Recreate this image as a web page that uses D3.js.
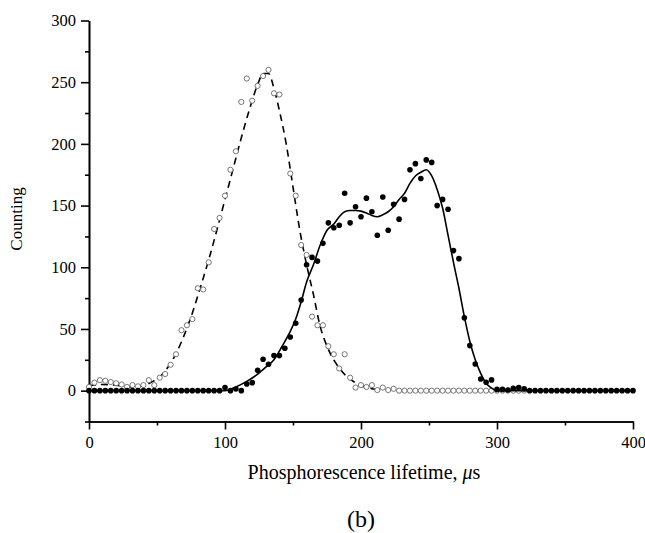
<!DOCTYPE html>
<html>
<head>
<meta charset="utf-8">
<script src="https://cdn.jsdelivr.net/npm/d3@7"></script>
<style>
  body { margin: 0; background: #fff; }
  svg { font-family: 'Liberation Serif', 'Times New Roman', serif; }
</style>
</head>
<body>
<svg width="645" height="533"></svg>
<script>
var svg = d3.select('svg')

// open circles (first band)
var openT = [0, 4, 8, 12, 16, 20, 24, 28, 32, 36, 40, 44, 48, 52, 56, 60, 64, 68, 72, 76,
  80, 84, 88, 92, 96, 100, 104, 108, 112, 116, 120, 124, 128, 132, 136, 140, 148, 152, 156, 160,
  164, 168, 172, 176, 180, 184, 188, 192, 196, 200, 204, 208, 212, 216, 220, 224, 228, 232, 236, 240,
  244, 248, 252, 256, 260, 264, 268, 272, 276, 280, 284, 288, 292, 296, 300, 304, 308, 312, 316, 320]
var openV = [3, 6.5, 8.5, 8, 7, 6, 5, 3, 4.5, 3.5, 4.5, 8.5, 4.5, 10.5, 13.5, 21, 29.5, 49, 53, 58,
  83, 82, 104, 131, 140, 158, 179, 194, 234, 253, 235, 247, 255, 260, 241, 240, 176, 158, 118, 110,
  60, 53, 53, 36, 29.5, 18, 29.5, 10.5, 2.5, 4.5, 3, 4.5, 0.5, 2.5, 0.5, 1.5, 0, 0, 0, 0,
  0, 0, 0, 0, 0, 0, 0, 0, 0, 0, 0, 0, 0, 0, 0, 0, 0, 0, 0, 0]

// dashed fit through the open circles
var dashT = [0, 10, 20, 30, 40, 46, 52, 58, 64, 70, 76, 82, 88, 94, 100, 106, 112, 118, 124, 128,
  132, 136, 140, 145, 150, 155, 160, 165, 170, 175, 180, 185, 190, 195, 200, 206, 212]
var dashV = [4, 5, 4.5, 3, 4, 7, 11, 19, 30, 45, 63, 84, 106, 130, 155, 180, 205, 228, 248, 257,
  257, 245, 227, 200, 165, 130, 102, 78, 52, 36, 25, 17, 11, 7, 4, 2, 1]

// filled circles (second band)
var fillT = [0, 4, 8, 12, 16, 20, 24, 28, 32, 36, 40, 44, 48, 52, 56, 60, 64, 68, 72, 76,
  80, 84, 88, 92, 96, 100, 104, 108, 112, 116, 120, 124, 128, 132, 136, 140, 144, 148, 152, 156,
  160, 164, 168, 172, 176, 180, 184, 188, 192, 196, 200, 204, 208, 212, 216, 220, 224, 228, 232, 236,
  240, 244, 248, 252, 256, 260, 264, 268, 272, 276, 280, 284, 288, 292, 296, 300, 304, 308, 312, 316,
  320, 324, 328, 332, 336, 340, 344, 348, 352, 356, 360, 364, 368, 372, 376, 380, 384, 388, 392, 396, 400]
var fillV = [0, 0, 0, 0, 0, 0, 0, 0, 0, 0, 0, 0, 0, 0, 0, 0, 0, 0, 0, 0,
  0, 0, 0, 0, 0, 2.5, 0, 1.4, 0, 5.4, 6.5, 16.5, 25.4, 21.4, 28.4, 28.4, 34.4, 43.5, 54.6, 73.5,
  102, 108, 105, 119.4, 136, 132, 134, 160, 136, 149, 141, 156, 145, 126, 157, 130, 151, 139, 155, 179,
  184, 172, 187, 185, 150, 155, 147, 113.5, 107, 59, 36.5, 21.6, 9.5, 6.8, 8.7, 1, 1, 0.5, 2, 2.5,
  1.5, 0, 0, 0, 0, 0, 0, 0, 0, 0, 0, 0, 0, 0, 0, 0, 0, 0, 0, 0, 0]

// solid fit through the filled circles
var solidT = [0, 100, 108, 116, 123, 130, 136, 142, 148, 152, 156, 160, 165, 170, 175, 180, 184, 188, 192, 196,
  200, 204, 208, 212, 216, 220, 224, 228, 232, 236, 240, 244, 248, 252, 256, 260, 264, 268, 272, 276,
  280, 284, 288, 292, 296, 300, 400]
var solidV = [0, 0, 3, 7.5, 12.5, 19, 25, 36, 48, 58, 72, 88, 102, 118, 130, 135, 141, 145, 146, 146,
  145.5, 144, 142, 141, 142.5, 145, 149, 155, 160, 168, 174, 177, 179, 174, 163, 148, 126, 104, 83, 60,
  40, 25, 14, 6, 2, 0, 0]

var xMajor = [0, 100, 200, 300, 400]
var xMinor = [50, 150, 250, 350]
var yMajor = [0, 50, 100, 150, 200, 250, 300]
var yMinor = [-25, 25, 75, 125, 175, 225, 275]

var x = d3.scaleLinear().domain([0, 400]).range([89, 633])
var y = d3.scaleLinear().domain([-25, 300]).range([421.5, 20.5])

// axes
var xAxis = d3.axisBottom(x).tickValues(xMajor).tickSize(8).tickPadding(7).tickSizeOuter(0)
var xAxisMinor = d3.axisBottom(x).tickValues(xMinor).tickSize(4).tickFormat('').tickSizeOuter(0)
var yAxis = d3.axisLeft(y).tickValues(yMajor).tickSize(8).tickPadding(5).tickSizeOuter(0)
var yAxisMinor = d3.axisLeft(y).tickValues(yMinor).tickSize(4).tickFormat('').tickSizeOuter(0)

function styleAxis (g) {
  g.selectAll('path, line').attr('stroke', '#000').attr('stroke-width', 1.6)
  g.selectAll('text').attr('fill', '#000')
    .style('font-family', "'Liberation Serif', serif").style('font-size', '16.5px')
}

svg.append('g').attr('transform', 'translate(0,' + y(-25) + ')').call(xAxisMinor).call(styleAxis)
svg.append('g').attr('transform', 'translate(0,' + y(-25) + ')').call(xAxis).call(styleAxis)
svg.append('g').attr('transform', 'translate(' + x(0) + ',0)').call(yAxisMinor).call(styleAxis)
svg.append('g').attr('transform', 'translate(' + x(0) + ',0)').call(yAxis).call(styleAxis)

var line = d3.line()
  .x(function (d) { return x(d[0]) })
  .y(function (d) { return y(d[1]) })
  .curve(d3.curveMonotoneX)

// dashed curve
svg.append('path')
  .datum(d3.zip(dashT, dashV))
  .attr('d', line)
  .attr('fill', 'none')
  .attr('stroke', '#000')
  .attr('stroke-width', 1.6)
  .attr('stroke-dasharray', '7,5')

// open circles
svg.append('g').selectAll('circle')
  .data(d3.zip(openT, openV))
  .enter()
  .append('circle')
  .attr('cx', function (d) { return x(d[0]) })
  .attr('cy', function (d) { return y(d[1]) })
  .attr('r', 2.6)
  .attr('fill', '#fff')
  .attr('stroke', '#555')
  .attr('stroke-width', 0.8)

// solid curve
svg.append('path')
  .datum(d3.zip(solidT, solidV))
  .attr('d', line)
  .attr('fill', 'none')
  .attr('stroke', '#000')
  .attr('stroke-width', 1.6)

// filled circles
svg.append('g').selectAll('circle')
  .data(d3.zip(fillT, fillV))
  .enter()
  .append('circle')
  .attr('cx', function (d) { return x(d[0]) })
  .attr('cy', function (d) { return y(d[1]) })
  .attr('r', 2.8)
  .attr('fill', '#000')

// axis titles
var xt = svg.append('text')
  .attr('x', 364)
  .attr('y', 479)
  .attr('text-anchor', 'middle')
  .style('font-size', '20px')
xt.append('tspan').text('Phosphorescence lifetime, ')
xt.append('tspan').style('font-style', 'italic').text('μ')
xt.append('tspan').text('s')

svg.append('text')
  .attr('transform', 'translate(22,219) rotate(-90)')
  .attr('text-anchor', 'middle')
  .style('font-size', '17px')
  .text('Counting')

svg.append('text')
  .attr('x', 361)
  .attr('y', 527)
  .attr('text-anchor', 'middle')
  .style('font-size', '24px')
  .text('(b)')
</script>
</body>
</html>
